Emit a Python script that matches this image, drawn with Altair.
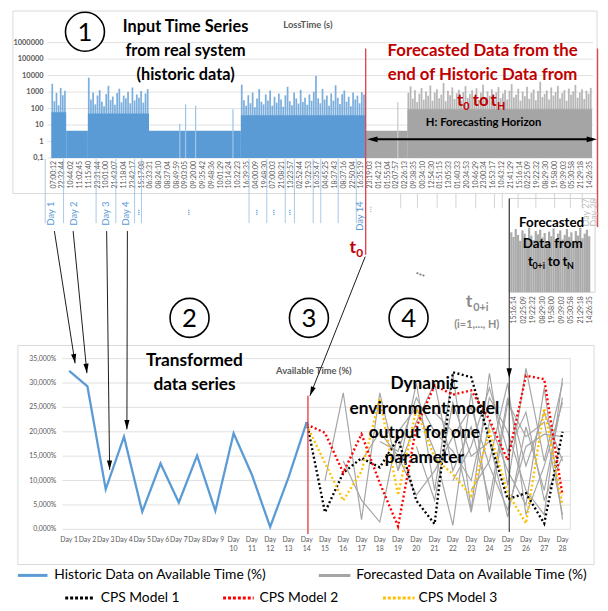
import math
import pandas as pd
import altair as alt

FONT = "Lato"
BLUE = "#5B9BD5"
GRAY = "#A5A5A5"
RED_T = "#C00000"
AX_TXT = "#595959"
GRID = "#D9D9D9"

# ------------------------------------------------------------------ data
# top chart: LossTime (s), log scale, x in "time-label slots"
time_labels = ["07:00:12", "22:32:44", "10:44:02", "11:02:45", "11:15:40", "23:31:44", "10:01:00",
               "21:43:07", "11:18:04", "23:42:17", "15:17:08", "06:33:31", "08:24:10", "08:37:04",
               "08:49:59", "09:03:05", "09:20:00", "09:35:42", "09:48:36", "10:01:29", "10:14:24",
               "10:32:23", "16:39:35", "04:00:09", "19:48:30", "07:00:03", "21:08:21", "13:23:57",
               "02:52:44", "19:32:53", "16:35:47", "04:45:25", "18:37:43", "08:37:16", "22:50:04",
               "16:35:19", "23:19:03", "01:42:12", "01:55:04", "02:07:57", "02:26:13", "09:38:35",
               "00:34:10", "12:54:30", "01:51:15", "13:05:33", "01:40:33", "20:34:53", "10:46:29",
               "23:00:34", "16:53:17", "10:43:12", "21:41:29", "15:16:14", "02:25:09", "19:22:32",
               "08:29:30", "19:58:00", "09:39:03", "05:30:58", "21:29:18", "14:26:35"]
loss_ticks = [0.1, 1, 10, 100, 1000, 10000, 100000, 1000000]
loss_tick_labels = ["0,1", "1", "10", "100", "1000", "10000", "100000", "1000000"]

# dense (busy) periods: start slot, end slot, loss peaks
hist_dense_a = (0.0, 1.68, [3200, 280, 900, 160, 1800, 650, 1200])
hist_dense_c = (4.15, 11.1, [7500, 350, 950, 180, 620, 1300, 260, 140, 760, 2400, 330, 540, 170, 880,
                             1600, 240, 610, 420, 1050, 210, 1900, 310, 720, 460, 1150, 230, 820, 1500])
hist_dense_e = (21.55, 35.7, [2800, 320, 150, 640, 210, 930, 120, 410, 1500, 260, 180, 720, 310, 1250,
                              150, 520, 230, 810, 360, 130, 640, 2100, 280, 160, 930, 410, 200, 1350,
                              250, 460, 170, 720, 300, 1050, 9500, 420, 210, 1550, 350, 620, 150, 830,
                              300, 2600, 450, 190, 740, 1250, 260, 520, 140, 930, 360, 610, 210, 1000, 720])
fore_dense_g = (40.5, 61.5, [900, 2200, 400, 1300, 250, 800, 1800, 350, 1100, 600, 2500, 300, 950, 1500,
                             420, 700, 3500, 280, 1200, 650, 1900, 380, 850, 1400, 300, 1000, 2300, 450,
                             760, 1300, 520, 1700, 330, 900, 2800, 400, 1100, 600, 1500, 270, 980, 2000,
                             430, 820, 1350, 360, 1200, 3000, 480, 700, 1600, 300, 1050, 560, 2100, 390,
                             880, 1450, 320, 1150, 4200, 500, 780, 1250, 350, 1900, 620, 1000, 2400, 410,
                             860, 1300, 300, 1600, 700, 1100, 2700, 450, 950, 1500, 380, 1200, 800, 1800])
# typical (body) level of the busy periods: start slot, end slot, level
hist_body = [(0.0, 1.68, 60), (4.15, 11.1, 50), (21.55, 35.7, 40)]
fore_body = [(40.5, 61.5, 90)]
# quiet periods: start slot, end slot, level
hist_flat = [(1.68, 4.15, 4.5), (11.1, 21.55, 4.5)]
fore_flat = [(35.7, 40.5, 4.5)]
# isolated spikes in quiet periods: slot, value
hist_spikes = [(14.6, 12), (15.26, 180), (16.4, 150), (20.65, 90)]
fore_spikes = [(39.4, 250)]

# inset (forecast t0+i .. tN)
inset_labels = ["15:16:14", "02:25:09", "19:22:32", "08:29:30", "19:58:00", "09:39:03",
                "05:30:58", "21:29:18", "14:26:35"]
inset_values = [92, 85, 97, 88, 79, 95, 90, 83, 99, 87, 80, 94, 89, 96, 84, 91, 78, 93, 86, 98,
                82, 90, 95, 81, 88, 97, 85, 92, 79, 94, 87, 99, 83, 90, 96, 86]

# bottom chart: Available Time (%)
hist_days = list(range(1, 15))
hist_avail = [32.5, 29.3, 8.2, 19.0, 3.6, 13.5, 5.5, 15.1, 3.8, 19.7, 11.2, 0.5, 10.6, 22.0]
fore_days = list(range(14, 29))
cps1 = [22.0, 3.5, 11.6, 14.6, 12.7, 18.7, 5.9, 1.1, 32.2, 31.2, 18.5, 6.2, 7.4, 1.2, 20.0]
cps2 = [21.5, 19.8, 11.6, 19.5, 9.5, 0.6, 21.0, 29.5, 27.6, 28.5, 22.5, 14.2, 31.5, 30.8, 7.0]
cps3 = [21.4, 13.6, 5.9, 11.9, 26.8, 7.0, 24.7, 14.6, 11.3, 6.9, 20.0, 7.5, 1.2, 24.8, 4.9]
gray_series = {
    "F1": (15, [10, 28, 2, 28, 12, 30, 8, 32, 4, 32, 9, 33, 14, 30]),
    "F2": (16, [14, 6, 1.5, 20, 25, 16, 0.8, 28, 3.5, 26, 19, 22, 3]),
    "F3": (17, [14, 20, 15, 7, 12, 19, 25, 13, 4, 17, 19.5, 19]),
    "F4": (18, [18, 16, 27, 20, 16, 10, 27, 20, 8, 3, 31]),
    "F5": (19, [12, 22, 30, 12, 21, 6, 27, 13, 24, 14]),
    "F6": (20, [17, 6, 26, 15, 18, 2.5, 21, 8, 27]),
    "F7": (21, [24, 20, 3.5, 22, 12, 5, 29, 2]),
    "F8": (22, [10, 17, 29, 16, 24, 6, 15]),
    "F9": (23, [8, 14, 30, 3, 13, 26]),
}
pct_ticks = [0, 5, 10, 15, 20, 25, 30, 35]
pct_labels = ["0,000%", "5,000%", "10,000%", "15,000%", "20,000%", "25,000%", "30,000%", "35,000%"]


# ------------------------------------------------------------------ helpers
def px(v):
    return v - 8


ONE = pd.DataFrame({"k": [0]})

X_TOP = alt.Scale(domain=[0, 61.5], range=[px(52), px(600)], nice=False, zero=False)
Y_TOP = alt.Scale(type="log", domain=[0.1, 1000000], range=[px(156), px(39)], nice=False)
X_BOT = alt.Scale(domain=[1, 28], range=[px(70), px(570)], nice=False, zero=False)
Y_BOT = alt.Scale(domain=[0, 35], range=[px(532.3), px(359.3)], nice=False, zero=False)
X_INS = alt.Scale(domain=[0, 9], range=[px(516), px(603)], nice=False, zero=False)
Y_INS = alt.Scale(domain=[0, 100], range=[px(292), px(226)], nice=False, zero=False)


def T(text, x, y, size, color="#000000", weight="normal", align="center",
      baseline="middle", angle=0):
    return alt.Chart(ONE).mark_text(text=text, font=FONT, fontSize=size, fontWeight=weight,
                                    color=color, align=align, baseline=baseline,
                                    angle=angle).encode(x=alt.value(px(x)), y=alt.value(px(y)))


def R(x1, y1, x2, y2, color="#000000", width=1.0, dash=None, cap="butt"):
    kw = dict(color=color, strokeWidth=width, strokeCap=cap)
    if dash:
        kw["strokeDash"] = dash
    return alt.Chart(ONE).mark_rule(**kw).encode(
        x=alt.value(px(x1)), y=alt.value(px(y1)), x2=alt.value(px(x2)), y2=alt.value(px(y2)))


HEAD = "M0,0L-0.55,-2L0.55,-2Z"


def head(x1, y1, x2, y2, size=100):
    dx, dy = x2 - x1, y2 - y1
    ang = math.degrees(math.atan2(-dx, dy)) % 360
    return alt.Chart(ONE).mark_point(shape=HEAD, filled=True, color="#000000", opacity=1,
                                     size=size, angle=ang).encode(
        x=alt.value(px(x2)), y=alt.value(px(y2)))


def arrow(x1, y1, x2, y2, width=0.9, size=90):
    return [R(x1, y1, x2, y2, width=width), head(x1, y1, x2, y2, size)]


def circle(x, y, label):
    return [alt.Chart(ONE).mark_point(shape="circle", size=1560, filled=True, fill="#FFFFFF",
                                      stroke="#000000", strokeWidth=1.6, opacity=1).encode(
        x=alt.value(px(x)), y=alt.value(px(y))),
        T(label, x, y + 1, 26)]


def frame(x1, y1, x2, y2, color=GRID):
    return alt.Chart(ONE).mark_rect(fillOpacity=0, stroke=color, strokeWidth=1).encode(
        x=alt.value(px(x1)), y=alt.value(px(y1)), x2=alt.value(px(x2)), y2=alt.value(px(y2)))


def dense_rows(seg, frac=0.8):
    start, end, vals = seg
    w = (end - start) / len(vals)
    return [{"x0": start + i * w, "x1": start + i * w + w * frac, "v": v, "b": 0.1}
            for i, v in enumerate(vals)]


def flat_rows(segs):
    return [{"x0": a, "x1": b, "v": v, "b": 0.1} for a, b, v in segs]


def spike_rows(sp):
    return [{"x0": s - 0.07, "x1": s + 0.07, "v": v, "b": 0.1} for s, v in sp]


def top_bars(rows, color, opacity=1.0):
    return alt.Chart(pd.DataFrame(rows)).mark_rect(color=color, opacity=opacity).encode(
        x=alt.X("x0:Q", scale=X_TOP, axis=None), x2="x1:Q",
        y=alt.Y("v:Q", scale=Y_TOP, axis=None), y2="b:Q")


layers = []

# ------------------------------------------------------------------ top chart
layers.append(frame(13, 7, 605, 192))
layers.append(alt.Chart(pd.DataFrame({"v": loss_ticks})).mark_rule(color=GRID, strokeWidth=0.8).encode(
    y=alt.Y("v:Q", scale=Y_TOP, axis=None), x=alt.value(px(48)), x2=alt.value(px(601))))
layers.append(alt.Chart(pd.DataFrame({"v": loss_ticks, "lab": loss_tick_labels})).mark_text(
    font=FONT, fontSize=7.5, fontWeight="bold", color=AX_TXT, align="right", baseline="middle").encode(
    y=alt.Y("v:Q", scale=Y_TOP, axis=None), x=alt.value(px(44)), text="lab:N"))

hist_rows = dense_rows(hist_dense_a) + dense_rows(hist_dense_c) + dense_rows(hist_dense_e)
layers.append(top_bars(hist_rows, BLUE, 0.8))
layers.append(top_bars(flat_rows(hist_body), BLUE))
layers.append(top_bars(flat_rows(hist_flat), BLUE))
layers.append(top_bars(spike_rows(hist_spikes), "#9DC3E6"))
layers.append(top_bars(dense_rows(fore_dense_g), GRAY, 0.8))
layers.append(top_bars(flat_rows(fore_body), GRAY))
layers.append(top_bars(flat_rows(fore_flat), GRAY))
layers.append(top_bars(spike_rows(fore_spikes), "#C9C9C9"))

layers.append(alt.Chart(pd.DataFrame({"u": [i + 0.25 for i in range(len(time_labels))],
                                      "lab": time_labels})).mark_text(
    font=FONT, fontSize=7, color=AX_TXT, align="right", baseline="middle", angle=270).encode(
    x=alt.X("u:Q", scale=X_TOP, axis=None), y=alt.value(px(159)), text="lab:N"))

layers.append(T("LossTime (s)", 312, 21, 9.5, AX_TXT, "bold"))
layers += circle(86, 28, "1")
layers.append(T("Input Time Series", 188, 23, 16.5, weight="bold"))
layers.append(T("from real system", 188, 48, 16.5, weight="bold"))
layers.append(T("(historic data)", 188, 72, 16.5, weight="bold"))

# red boundaries
layers.append(R(370.5, 45, 370.5, 254, "#E0474C", 1.4))
layers.append(R(605.5, 45, 605.5, 226, "#E0474C", 1.4))

# forecast title
layers.append(T("Forecasted Data from the", 489, 48, 17, RED_T, "bold"))
layers.append(T("end of Historic Data from", 489, 72, 17, RED_T, "bold"))
layers.append(T("t", 463, 103, 17, RED_T, "bold", "left", "alphabetic"))
layers.append(T("0", 469.5, 107, 11, RED_T, "bold", "left", "alphabetic"))
layers.append(T("to", 479, 103, 17, RED_T, "bold", "left", "alphabetic"))
layers.append(T("t", 497, 103, 17, RED_T, "bold", "left", "alphabetic"))
layers.append(T("H", 503.5, 107, 11, RED_T, "bold", "left", "alphabetic"))
layers.append(T("H: Forecasting Horizon", 490, 121, 11.5, weight="bold"))
layers.append(R(376, 137, 601, 137, width=2))
layers.append(head(400, 137, 372, 137, 110))
layers.append(head(580, 137, 605, 137, 110))

# day markers under the top axis
for x in [45.7, 64.3, 97.3, 117.3, 136.3, 143.3, 252.3, 270.3, 289, 298.3, 317.3, 325, 342.7, 361]:
    layers.append(R(x, 157, x, 222, "#9DC3E6", 0.9))
for x in [406, 423, 443, 462, 482, 501, 509, 525, 543, 562, 578, 590]:
    layers.append(R(x, 192, x, 207, "#D0D0D0", 0.9))
for lab, x in [("Day 1", 52), ("Day 2", 74.5), ("Day 3", 107), ("Day 4", 128), ("Day 14", 365)]:
    layers.append(T(lab, x, 200, 9.5, BLUE, "normal", "right", "middle", 270))
for x in [143, 193, 262, 280, 296]:
    layers.append(T("...", x, 211, 9, BLUE, "bold", "center", "middle", 90))
layers.append(T("...", 378, 208, 9, "#BFBFBF", "bold", "center", "middle", 90))
layers.append(T("Day 27", 594, 197, 9, "#BFBFBF", "normal", "right", "middle", 270))
layers.append(T("Day 28", 601.5, 197, 9, "#BFBFBF", "normal", "right", "middle", 270))

# t0 marker
layers.append(T("t", 354, 252, 18, RED_T, "bold", "left", "alphabetic"))
layers.append(T("0", 361, 256, 12, RED_T, "bold", "left", "alphabetic"))

# inset
layers.append(frame(516, 197, 603, 292, "#D0D0D0"))
ins_w = 8.4 / len(inset_values)
ins_rows = [{"x0": 0.1 + i * ins_w, "x1": 0.1 + (i + 1) * ins_w, "v": v, "b": 0}
            for i, v in enumerate(inset_values)]
layers.append(alt.Chart(pd.DataFrame(ins_rows)).mark_rect(color="#ABABAB").encode(
    x=alt.X("x0:Q", scale=X_INS, axis=None), x2="x1:Q",
    y=alt.Y("v:Q", scale=Y_INS, axis=None), y2="b:Q"))
layers.append(alt.Chart(pd.DataFrame({"u": [i + 0.5 for i in range(len(inset_labels))],
                                      "lab": inset_labels})).mark_text(
    font=FONT, fontSize=7, color=AX_TXT, align="right", baseline="middle", angle=270).encode(
    x=alt.X("u:Q", scale=X_INS, axis=None), y=alt.value(px(296)), text="lab:N"))
layers.append(T("Forecasted", 559, 222, 13.5, weight="bold"))
layers.append(T("Data from", 560, 243, 13.5, weight="bold"))
layers.append(T("t", 535, 265, 13.5, weight="bold", align="left", baseline="alphabetic"))
layers.append(T("0+i", 539.5, 268, 9, weight="bold", align="left", baseline="alphabetic"))
layers.append(T("to", 555, 265, 13.5, weight="bold", align="left", baseline="alphabetic"))
layers.append(T("t", 570, 265, 13.5, weight="bold", align="left", baseline="alphabetic"))
layers.append(T("N", 574.5, 268, 9, weight="bold", align="left", baseline="alphabetic"))

# middle annotations
layers += circle(192, 318, "2")
layers += circle(313, 318, "3")
layers += circle(414, 318, "4")
layers.append(T("...", 427, 271, 14, "#7F7F7F", "bold", angle=20))
layers.append(T("t", 472, 307, 18, "#8C8C8C", "bold", "left", "alphabetic"))
layers.append(T("0+i", 479.5, 311, 11, "#8C8C8C", "bold", "left", "alphabetic"))
layers.append(T("(i=1,..., H)", 483, 319, 11, "#8C8C8C", "bold", baseline="top"))

# ------------------------------------------------------------------ bottom chart
layers.append(frame(18, 346, 602, 568))
layers.append(alt.Chart(pd.DataFrame({"v": pct_ticks})).mark_rule(color=GRID, strokeWidth=0.8).encode(
    y=alt.Y("v:Q", scale=Y_BOT, axis=None), x=alt.value(px(63)), x2=alt.value(px(578))))
layers.append(R(578, 359.3, 578, 532.3, GRID, 0.8))
layers.append(alt.Chart(pd.DataFrame({"v": pct_ticks, "lab": pct_labels})).mark_text(
    font=FONT, fontSize=7, color=AX_TXT, align="right", baseline="middle").encode(
    y=alt.Y("v:Q", scale=Y_BOT, axis=None), x=alt.value(px(57)), text="lab:N"))
all_days = list(range(1, 29))
layers.append(alt.Chart(pd.DataFrame({"day": all_days,
                                      "lab": [f"Day {d}" if d < 10 else f"Day\n{d}" for d in all_days]})).mark_text(
    font=FONT, fontSize=7, color=AX_TXT, align="center", baseline="top", lineBreak="\n",
    lineHeight=9).encode(
    x=alt.X("day:Q", scale=X_BOT, axis=None), y=alt.value(px(539)), text="lab:N"))
layers.append(T("Available Time (%)", 318, 372, 9.5, AX_TXT, "bold"))

gray_rows = []
for name, (d0, vals) in gray_series.items():
    for i, v in enumerate(vals):
        gray_rows.append({"series": name, "day": d0 + i, "pct": v})
layers.append(alt.Chart(pd.DataFrame(gray_rows)).mark_line(color=GRAY, strokeWidth=1.2).encode(
    x=alt.X("day:Q", scale=X_BOT, axis=None), y=alt.Y("pct:Q", scale=Y_BOT, axis=None),
    detail="series:N"))
for vals, col in [(cps1, "#000000"), (cps3, "#FFC000"), (cps2, "#FF0000")]:
    layers.append(alt.Chart(pd.DataFrame({"day": fore_days, "pct": vals})).mark_line(
        color=col, strokeWidth=2.4, strokeDash=[2, 2.5]).encode(
        x=alt.X("day:Q", scale=X_BOT, axis=None), y=alt.Y("pct:Q", scale=Y_BOT, axis=None)))
layers.append(alt.Chart(pd.DataFrame({"day": hist_days, "pct": hist_avail})).mark_line(
    color=BLUE, strokeWidth=2.3).encode(
    x=alt.X("day:Q", scale=X_BOT, axis=None), y=alt.Y("pct:Q", scale=Y_BOT, axis=None)))
layers.append(R(312, 397, 312, 537, "#E0474C", 1.4))

layers.append(T("Transformed", 197, 362, 17.5, weight="bold"))
layers.append(T("data series", 197, 386, 17.5, weight="bold"))
for txt, y in [("Dynamic", 385), ("environment model", 410), ("output for one", 435), ("parameter", 460)]:
    layers.append(T(txt, 430, y, 17.5, weight="bold"))

# arrows
layers += arrow(55, 230, 76, 364)
layers += arrow(74, 230, 88, 374)
layers += arrow(108, 230, 111, 472)
layers += arrow(129, 230, 128.5, 431)
layers += arrow(370, 256, 314, 397)
layers.append(R(516, 197, 516, 535, width=0.9))
layers.append(head(516, 300, 516, 379, 100))

# legend
layers.append(R(18, 579, 48, 579, BLUE, 3))
layers.append(T("Historic Data on Available Time (%)", 55, 579, 14, align="left"))
layers.append(R(323, 579, 355, 579, GRAY, 3))
layers.append(T("Forecasted Data on Available Time (%)", 361, 579, 14, align="left"))
for x1, x2, col, lab, tx in [(66, 94, "#000000", "CPS Model 1", 102),
                             (226, 257, "#FF0000", "CPS Model 2", 263),
                             (388, 420, "#FFC000", "CPS Model 3", 424)]:
    layers.append(R(x1, 602, x2, 602, col, 3, dash=[3, 2]))
    layers.append(T(lab, tx, 602, 14, align="left"))

chart = alt.layer(*layers).properties(
    width=600, height=603, padding=0, autosize=alt.AutoSizeParams(type="none")
).resolve_scale(x="independent", y="independent").configure_view(stroke=None)

chart.save("out.html", embed_options={"renderer": "svg", "actions": False})
